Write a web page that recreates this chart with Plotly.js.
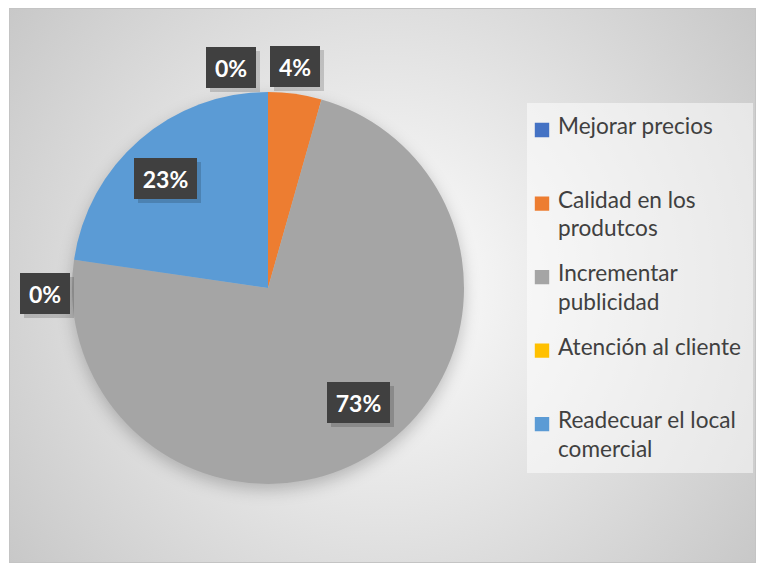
<!DOCTYPE html>
<html><head><meta charset="utf-8">
<script src="https://cdn.plot.ly/plotly-3.0.1.min.js"></script>
<style>
html,body{margin:0;padding:0;background:#fff;width:759px;height:564px;overflow:hidden;}
#frame{position:absolute;left:9px;top:8px;width:745px;height:553px;border:1px solid #c4c4c4;
 background:radial-gradient(circle farthest-corner at 50% 50%, #ffffff 0%, #c8c8c8 100%);}
#chart{position:absolute;left:0;top:0;width:759px;height:564px;}
#chart .pielayer{filter:drop-shadow(0px 6px 8px rgba(0,0,0,0.22));}
</style></head>
<body><div id="frame"></div><div id="chart"></div>
<script>
// ---- data ----
const categories = ['Mejorar precios', 'Calidad en los produtcos', 'Incrementar publicidad', 'Atención al cliente', 'Readecuar el local comercial'];
const legendText = ['Mejorar precios', 'Calidad en los<br>produtcos', 'Incrementar<br>publicidad', 'Atención al cliente', 'Readecuar el local<br>comercial'];
const values = [0, 4.4, 72.9, 0, 22.7];
const colors = ['#4472C4', '#ED7D31', '#A5A5A5', '#FFC000', '#5B9BD5'];

// ---- layout helpers ----
const W = 759, H = 564;
const dom = {x: [72 / W, 464 / W], y: [1 - 484 / H, 1 - 92 / H]};
const cx = (dom.x[0] + dom.x[1]) / 2 * W;
const cy = (1 - (dom.y[0] + dom.y[1]) / 2) * H;
const R = (dom.x[1] - dom.x[0]) * W / 2;
// pixel nudges for label boxes (to avoid overlaps, as in the original)
const labelShift = [[-37, -3], [-4, 0], [10, 11], [-2, -38], [-5, -3]];

// legend entries: large text lines on a small base line height so that the
// line spacing and the entry spacing match the original
const big = s => '<span style="font-size:22.6px">' + s + '</span>';
const NB = '\u00a0';
const legendLabels = legendText.map(t => {
  const p = t.split('<br>');
  return [big(p[0]), NB, p[1] ? big(p[1]) : NB, NB, NB].join('<br>');
});

const total = values.reduce((a, b) => a + b, 0);
const annotations = [];
let cum = 0;
values.forEach((v, i) => {
  const frac = v / total;
  const mid = (cum + frac / 2) * 2 * Math.PI;
  cum += frac;
  const inside = frac > 0.1;
  const r = inside ? 0.76 * R : 1.14 * R;
  const px = cx + r * Math.sin(mid);
  const py = cy - r * Math.cos(mid);
  const txt = Math.round(frac * 100) + '%';
  const w = txt.length > 2 ? 63 : 50;
  const base = {x: px / W, y: 1 - py / H, xref: 'paper', yref: 'paper', showarrow: false,
    xanchor: 'center', yanchor: 'middle', width: w, height: 41, borderpad: 0, borderwidth: 0};
  annotations.push(Object.assign({}, base, {text: NB, bgcolor: 'rgba(0,0,0,0.16)',
    xshift: labelShift[i][0] + 4, yshift: labelShift[i][1] - 4}));
  annotations.push(Object.assign({}, base, {text: '<b>' + txt + '</b>', bgcolor: '#404040',
    font: {family: 'Lato, Open Sans, sans-serif', size: 23, color: '#ffffff'},
    xshift: labelShift[i][0], yshift: labelShift[i][1]}));
});

const trace = {
  type: 'pie',
  labels: legendLabels,
  values: values,
  sort: false,
  direction: 'clockwise',
  rotation: 0,
  textinfo: 'none',
  marker: {colors: colors, line: {width: 0}},
  domain: dom,
  showlegend: true
};

const layout = {
  width: W, height: H,
  margin: {l: 0, r: 0, t: 0, b: 0},
  paper_bgcolor: 'rgba(0,0,0,0)',
  plot_bgcolor: 'rgba(0,0,0,0)',
  showlegend: true,
  legend: {x: 518 / W, xanchor: 'left', y: 1 - 116.5 / H, yanchor: 'top',
    bgcolor: 'rgba(0,0,0,0)', valign: 'top',
    font: {family: 'Lato, Open Sans, sans-serif', size: 10.85, color: '#404040'}},
  shapes: [{type: 'rect', xref: 'paper', yref: 'paper', x0: 527 / W, x1: 753 / W,
    y0: 1 - 473 / H, y1: 1 - 103 / H, fillcolor: 'rgba(255,255,255,0.5)',
    line: {width: 0}, layer: 'below'}],
  annotations: annotations
};

Plotly.newPlot('chart', [trace], layout, {displayModeBar: false, staticPlot: true});
// legend swatches: same size and place as in the original (about 11 px)
document.querySelectorAll('#chart g.legendpoints path').forEach(p => {
  const t = p.getAttribute('transform') || '';
  p.setAttribute('transform', t + ' translate(4,0) scale(1.2)');
});
</script>
</body></html>
